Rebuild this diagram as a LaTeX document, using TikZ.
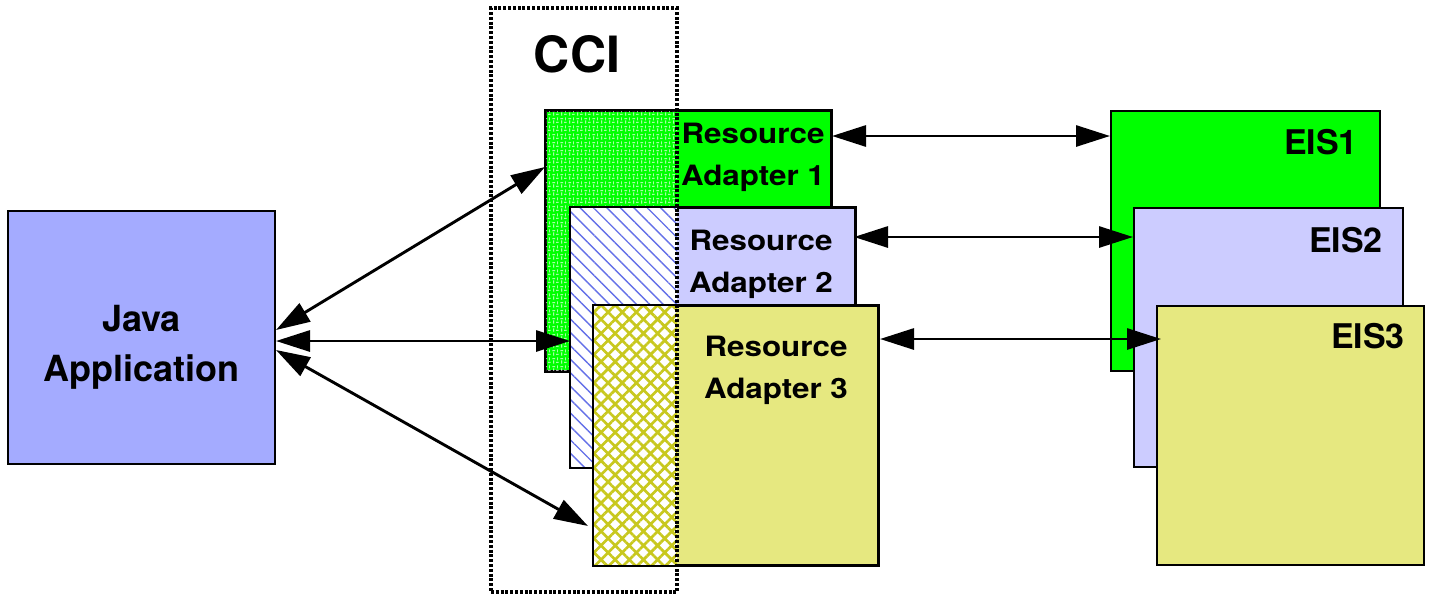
\documentclass[tikz,border=0pt]{standalone}
\usepackage{fontspec}
\setmainfont{TeX Gyre Heros}
\newfontfamily\rafont[FakeStretch=1.12]{TeX Gyre Heros}
\usetikzlibrary{arrows.meta,patterns,patterns.meta}
\definecolor{javablue}{RGB}{164,171,255}
\definecolor{lav}{RGB}{204,204,255}
\definecolor{ylw}{RGB}{230,232,128}
\definecolor{grn}{RGB}{0,255,0}
\definecolor{hblue}{RGB}{100,112,232}
\definecolor{hyel}{RGB}{200,200,30}
\pgfdeclarepattern{
  name=weave, type=uncolored,
  bottom left={\pgfpoint{0pt}{0pt}}, top right={\pgfpoint{8pt}{8pt}},
  tile size={\pgfpoint{8pt}{8pt}},
  code={
    \pgfsetlinewidth{0.8pt}
    \pgfpathmoveto{\pgfpoint{0.5pt}{6pt}}\pgfpathlineto{\pgfpoint{3.5pt}{6pt}}
    \pgfpathmoveto{\pgfpoint{4.5pt}{2pt}}\pgfpathlineto{\pgfpoint{7.5pt}{2pt}}
    \pgfpathmoveto{\pgfpoint{6pt}{4pt}}\pgfpathlineto{\pgfpoint{6pt}{7.5pt}}
    \pgfpathmoveto{\pgfpoint{2pt}{0.5pt}}\pgfpathlineto{\pgfpoint{2pt}{4pt}}
    \pgfusepath{stroke}
  }
}
\tikzset{
  box/.style={draw=black, line width=2pt, rectangle, inner sep=0pt},
  lbl/.style={font=\bfseries\fontsize{36}{50}\selectfont, align=center, inner sep=0pt},
  ralbl/.style={font=\rafont\bfseries\fontsize{28}{42}\selectfont, align=center, inner sep=0pt},
  eislbl/.style={font=\bfseries\fontsize{34}{40}\selectfont, inner sep=0pt, anchor=base east},
  conn/.style={line width=2.9pt, {Triangle[length=34pt,width=21pt]}-{Triangle[length=34pt,width=21pt]}},
  ccibox/.style={draw=black, line width=3.6pt, dash pattern=on 3pt off 1.8pt, rectangle, inner sep=0pt},
}
\begin{document}
\begin{tikzpicture}[x=1pt,y=-1pt]
\useasboundingbox (0,0) rectangle (1432,595);
\fill[white] (0,0) rectangle (1432,595);
% Java application
\node[box, fill=javablue, minimum width=267pt, minimum height=253pt] (java) at (141.5,337.5) {};
\node[lbl] (javat) at (141.5,347) {Java\\Application};
\coordinate (cciR) at (677,0);
% Resource adapter 1
\node[box, fill=grn, minimum width=285pt, minimum height=260pt] (ra1) at (688.5,241) {};
\fill[pattern=weave, pattern color=white] (ra1.north west) rectangle (ra1.south west -| cciR);
\draw[line width=2pt] (ra1.north west) rectangle (ra1.south east);
\node[ralbl] (ra1t) at (753,157) {Resource\\Adapter 1};
% Resource adapter 2
\node[box, fill=lav, minimum width=284pt, minimum height=259pt] (ra2) at (713,337.5) {};
\fill[white] (ra2.north west) rectangle (ra2.south west -| cciR);
\fill[pattern={Lines[angle=-45,distance=9.5pt,line width=1.4pt]}, pattern color=hblue] (ra2.north west) rectangle (ra2.south west -| cciR);
\draw[line width=2pt] (ra2.north west) rectangle (ra2.south east);
\node[ralbl] (ra2t) at (761,264.5) {Resource\\Adapter 2};
% Resource adapter 3
\node[box, fill=ylw, minimum width=284pt, minimum height=259pt] (ra3) at (736,435.5) {};
\fill[white] (ra3.north west) rectangle (ra3.south west -| cciR);
\fill[pattern={Hatch[angle=45,distance=10pt,line width=2.7pt]}, pattern color=hyel] (ra3.north west) rectangle (ra3.south west -| cciR);
\draw[line width=2pt] (ra3.north west) rectangle (ra3.south east);
\node[ralbl] (ra3t) at (776,370.5) {Resource\\Adapter 3};
% CCI dotted box
\node[ccibox, minimum width=186pt, minimum height=584pt] (cci) at (584,300) {};
\node[font=\bfseries\fontsize{50}{56}\selectfont, inner sep=0pt, anchor=base] (ccit) at (577,72) {CCI};
% EIS boxes
\node[box, fill=grn, minimum width=269pt, minimum height=260pt] (eis1) at (1245.5,241) {};
\node[eislbl] (eis1t) at (1358,154) {EIS1};
\node[box, fill=lav, minimum width=269pt, minimum height=259pt] (eis2) at (1268.5,337.5) {};
\node[eislbl] (eis2t) at (1383,252) {EIS2};
\node[box, fill=ylw, minimum width=267pt, minimum height=259pt] (eis3) at (1290.5,435.5) {};
\node[eislbl] (eis3t) at (1405,348) {EIS3};
% connectors
\draw[conn] ([yshift=7.5pt]java.east) -- ([yshift=-57pt]ra1.north west);
\draw[conn] ([yshift=-3.5pt]java.east) -- ([yshift=-3.5pt]ra2.west);
\draw[conn] ([yshift=-12.5pt]java.east) -- ([xshift=-5pt,yshift=-221pt]ra3.north west);
\draw[conn] ([yshift=-26pt]ra1.north east) -- ([yshift=-26pt]eis1.north west);
\draw[conn] ([xshift=-2pt,yshift=-30pt]ra2.north east) -- ([yshift=-30pt]eis2.north west);
\draw[conn] ([xshift=1pt,yshift=-34pt]ra3.north east) -- ([xshift=5pt,yshift=-34pt]eis3.north west);
\end{tikzpicture}
\end{document}
